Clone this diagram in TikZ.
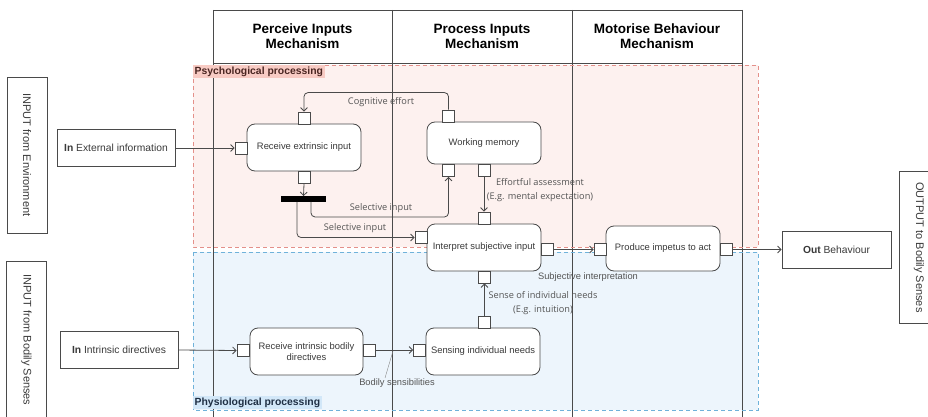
\documentclass[tikz,border=0pt]{standalone}
\usepackage{fontspec}
\setmainfont{Liberation Sans}
\newfontfamily\edgefont{Open Sans}
\usetikzlibrary{arrows.meta}

\definecolor{ink}{HTML}{4A4A4A}
\definecolor{txt}{HTML}{3A3A3A}
\definecolor{lbltxt}{HTML}{555555}
\definecolor{psyfill}{HTML}{FDF1EF}
\definecolor{psyline}{HTML}{E4908A}
\definecolor{psylab}{HTML}{F8CBC4}
\definecolor{psytxt}{HTML}{4A2622}
\definecolor{phyfill}{HTML}{EDF5FC}
\definecolor{phyline}{HTML}{6FB2DA}
\definecolor{phylab}{HTML}{D2E7F8}
\definecolor{phytxt}{HTML}{1F2F44}

\begin{document}
\begin{tikzpicture}[x=1pt,y=-1pt,
  proc/.style={draw=ink, fill=white, rounded corners=8pt, line width=0.8pt,
    minimum width=114pt, minimum height=47pt, align=center, text=txt,
    font=\fontsize{9.4}{11.5}\selectfont},
  port/.style={draw=ink, fill=white, line width=0.8pt, minimum size=12pt, inner sep=0pt},
  iobox/.style={draw=ink, fill=white, line width=0.8pt, minimum width=118pt,
    minimum height=37pt, text=txt, font=\fontsize{10.3}{12}\selectfont},
  sidebox/.style={draw=ink, fill=white, line width=0.8pt, minimum width=40pt,
    text=txt, font=\fontsize{11}{13}\selectfont},
  header/.style={align=center, text=black, font=\bfseries\fontsize{13.5}{15}\selectfont},
  flow/.style={draw=ink, line width=0.8pt, -{Straight Barb[length=3.5pt,width=7pt]}},
  elabel/.style={text=lbltxt, align=center, inner sep=1pt, font=\edgefont\fontsize{9.2}{14}\selectfont},
  alabel/.style={text=lbltxt, inner sep=1pt, font=\fontsize{9.3}{11}\selectfont},
  lane/.style={draw=ink, line width=0.7pt},
  region/.style={line width=0.9pt, dash pattern=on 4pt off 3pt},
  reglabel/.style={anchor=north west, inner sep=1.5pt, minimum height=13pt,
    font=\bfseries\fontsize{10.4}{12}\selectfont}
]
\useasboundingbox (0,0) rectangle (928,417);

% processing regions: fills first
\fill[psyfill] (193,65) rectangle (758,247);
\fill[phyfill] (193,252) rectangle (758,410);

% swimlanes with their headers
\draw[lane] (213,10) -- (742,10);
\draw[lane] (213,63) -- (742,63);
\foreach \lx in {213,392,572,742}
  \draw[lane] (\lx,10) -- (\lx,425);
\node[header] (h1) at (302.5,36) {Perceive Inputs\\Mechanism};
\node[header] (h2) at (482,36) {Process Inputs\\Mechanism};
\node[header] (h3) at (657,36) {Motorise Behaviour\\Mechanism};

% region borders and titles
\draw[region, draw=psyline] (193,65) rectangle (758,247);
\draw[region, draw=phyline] (193,252) rectangle (758,410);
\node[reglabel, fill=psylab, text=psytxt] (psy) at (193,65) {Psychological processing};
\node[reglabel, fill=phylab, text=phytxt, anchor=south west] (phy) at (193,409.5) {Physiological processing};

% outer input / output boxes
\node[sidebox, minimum height=156pt] (envbox) at (27,155) {};
\node[rotate=-90, text=txt, font=\fontsize{11}{13}\selectfont] (envtxt) at (27,155) {INPUT from Environment};
\node[sidebox, minimum height=160pt] (bodbox) at (26.5,341) {};
\node[rotate=-90, text=txt, font=\fontsize{11}{13}\selectfont] (bodtxt) at (26.5,340) {INPUT from Bodily Senses};
\node[sidebox, minimum height=152pt] (outbox) at (919,247) {};
\node[rotate=-90, text=txt, font=\fontsize{11}{13}\selectfont] (outtxt) at (919,247.5) {OUTPUT to Bodily Senses};

\node[iobox] (ext) at (116,148) {\textbf{In} External information};
\node[iobox] (intr) at (119,350) {\textbf{In} Intrinsic directives};
\node[iobox, minimum width=109pt] (out) at (836.5,249.5) {\textbf{Out} Behaviour};

% process steps
\node[proc] (rei) at (304,147.5) {Receive extrinsic input};
\node[proc, minimum height=42pt] (wm) at (484,143) {Working memory};
\node[proc] (isi) at (484,247.5) {Interpret subjective input};
\node[proc, minimum height=45pt] (pia) at (663,248.5) {Produce impetus to act};
\node[proc, minimum width=113pt] (ribd) at (306.5,351.5) {Receive intrinsic bodily\\directives};
\node[proc] (sin) at (483,351.5) {Sensing individual needs};

% ports
\node[port] (rei-l) at (241,148) {};
\node[port] (rei-t) at (304,118) {};
\node[port] (rei-b) at (304,177.5) {};
\node[port] (wm-t) at (448.5,116) {};
\node[port] (wm-bl) at (448.5,170.5) {};
\node[port] (wm-br) at (484,170.5) {};
\node[port] (isi-t) at (484,218) {};
\node[port] (isi-l) at (421,237.5) {};
\node[port] (isi-r) at (547,249.5) {};
\node[port] (isi-b) at (484.5,277) {};
\node[port] (pia-l) at (600,249.5) {};
\node[port] (pia-r) at (726,249.5) {};
\node[port] (ribd-l) at (243,350.5) {};
\node[port] (ribd-r) at (369,350) {};
\node[port] (sin-l) at (419.5,350) {};
\node[port] (sin-t) at (484.5,322.5) {};

% selection bar
\node[fill=black, minimum width=45pt, minimum height=5.5pt, inner sep=0pt] (bar) at (303.5,199) {};

% connectors
\draw[flow] (ext.east) -- (rei-l.west);
\draw[flow] (rei-b.south) -- (bar.north);
\draw[flow, rounded corners=4pt] (wm-t.north) -- ++(0,-17) -| (rei-t.north);
\draw[flow, rounded corners=4pt] ([xshift=7.5pt]bar.south) -- ++(0,15) -| (wm-bl.south);
\draw[flow, rounded corners=4pt] ([xshift=-6.5pt]bar.south) |- (isi-l.west);
\draw[flow] (wm-br.south) -- (isi-t.north);
\draw[flow] (sin-t.north) -- (isi-b.south);
\draw[flow] (isi-r.east) -- (pia-l.west);
\draw[flow] (pia-r.east) -- (out.west);
\draw[flow] (intr.east) -- (ribd-l.west);
\draw[flow] (ribd-r.east) -- (sin-l.west);

% connector labels
\node[elabel] (l-cog) at (381,102) {Cognitive effort};
\node[elabel] (l-sel1) at (381,208) {Selective input};
\node[elabel] (l-sel2) at (355,228) {Selective input};
\node[elabel] (l-eff) at (540,190) {Effortful assessment\\(E.g. mental expectation)};
\node[elabel] (l-sense) at (543,303.5) {Sense of individual needs\\(E.g. intuition)};
\node[alabel] (l-subj) at (588,277.5) {Subjective interpretation};
\node[alabel] (l-bod) at (397,383.5) {Bodily sensibilities};
\coordinate (bod-pt) at (393,351);
\draw[lbltxt!70, line width=0.4pt] ([xshift=-12pt]l-bod.north) -- (bod-pt);
\end{tikzpicture}
\end{document}
